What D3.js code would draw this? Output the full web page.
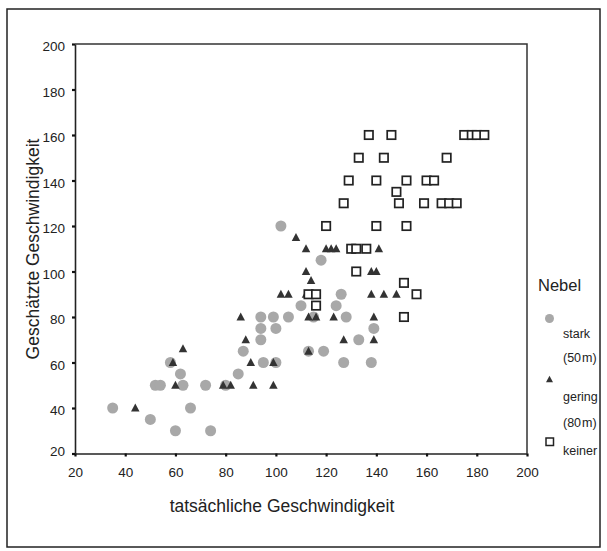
<!DOCTYPE html>
<html>
<head>
<meta charset="utf-8">
<script src="https://cdn.jsdelivr.net/npm/d3@7"></script>
<style>
body{margin:0;background:#fff;}
svg text{font-family:"Liberation Sans",Arial,sans-serif;fill:#222;}
</style>
</head>
<body>
<div id="chart"></div>
<script>
var xTicks = [20,40,60,80,100,120,140,160,180,200];
var yTicks = [20,40,60,80,100,120,140,160,180,200];

// Nebel: stark (50 m)
var stark = [[35,40],[50,35],[52,50],[54,50],[58,60],[62,55],[63,50],[60,30],[66,40],[72,50],[74,30],
	[80,50],[85,55],[87,65],[94,80],[99,80],[105,80],[94,75],[100,75],[94,70],[95,60],[100,60],
	[110,85],[124,85],[115,80],[128,80],[139,75],[133,70],[113,65],[119,65],[127,60],[138,60],
	[102,120],[118,105],[126,90]];
// Nebel: gering (80 m)
var gering = [[44,40],[63,66],[59,60],[60,50],[79,50],[82,50],[91,50],[99,50],[90,60],[99,60],
	[88,70],[86,80],[113,65],[113,80],[116,80],[123,80],[139,80],[127,70],[139,70],[102,90],
	[105,90],[112,90],[138,90],[143,90],[148,90],[114,96],[112,100],[138,100],[140,100],
	[108,115],[112,110],[120,110],[122,110],[124,110],[141,110]];
// Nebel: keiner
var keiner = [[113,90],[116,90],[116,85],[151,80],[156,90],[151,95],[132,100],[130,110],[132,110],
	[136,110],[120,120],[140,120],[152,120],[127,130],[149,130],[159,130],[166,130],[169,130],
	[172,130],[148,135],[129,140],[140,140],[152,140],[160,140],[163,140],[133,150],[143,150],
	[168,150],[137,160],[146,160],[175,160],[178,160],[180,160],[183,160]];

var width = 607, height = 551;
var svg = d3.select("#chart").append("svg")
	.attr("width",width)
	.attr("height",height);

// outer frame
svg.append("rect")
	.attr("x",7).attr("y",9)
	.attr("width",593).attr("height",538)
	.attr("fill","none")
	.attr("stroke","#222")
	.attr("stroke-width",1.5);

var x = d3.scaleLinear().domain([20,200]).range([75,527]);
var y = d3.scaleLinear().domain([20,200]).range([453.5,44]);

// box top/right
svg.append("path")
	.attr("d","M"+x(20)+","+y(200)+"H"+x(200)+"V"+y(20))
	.attr("fill","none")
	.attr("stroke","#333")
	.attr("stroke-width",1.5);

var xAxis = svg.append("g")
	.attr("transform","translate(0,"+y(20)+")")
	.call(d3.axisBottom(x).tickValues(xTicks).tickSize(3).tickSizeOuter(0).tickPadding(11));
var yAxis = svg.append("g")
	.attr("transform","translate("+x(20)+",0)")
	.call(d3.axisLeft(y).tickValues(yTicks).tickSize(3).tickSizeOuter(0).tickPadding(7));

[xAxis,yAxis].forEach(function(a){
	a.select(".domain").attr("stroke","#222").attr("stroke-width",1.6);
	a.selectAll(".tick line").attr("stroke","#111").attr("stroke-width",2.2);
	a.selectAll(".tick text").style("font-size","13.5px").attr("fill","#222");
});
yAxis.selectAll(".tick text").attr("y",function(d){return d===20 ? -2 : 2.5;});

// axis titles
svg.append("text")
	.attr("x",282).attr("y",512)
	.attr("text-anchor","middle")
	.style("font-size","17.5px")
	.text("tatsächliche Geschwindigkeit");
svg.append("text")
	.attr("transform","translate(39,249) rotate(-90)")
	.attr("text-anchor","middle")
	.style("font-size","17.5px")
	.text("Geschätzte Geschwindigkeit");

function triPath(cx,cy,w,h){
	return "M"+cx+","+(cy-h/2)+"L"+(cx+w/2)+","+(cy+h/2)+"L"+(cx-w/2)+","+(cy+h/2)+"Z";
}

// points
svg.append("g").selectAll("circle")
	.data(stark).enter().append("circle")
	.attr("cx",function(d){return x(d[0]);})
	.attr("cy",function(d){return y(d[1]);})
	.attr("r",5.5)
	.attr("fill","#a8a8a8");

svg.append("g").selectAll("path")
	.data(gering).enter().append("path")
	.attr("d",function(d){return triPath(x(d[0]),y(d[1])-0.5,8.5,8);})
	.attr("fill","#333");

svg.append("g").selectAll("rect")
	.data(keiner).enter().append("rect")
	.attr("x",function(d){return x(d[0])-4.2;})
	.attr("y",function(d){return y(d[1])-4.2;})
	.attr("width",8.4).attr("height",8.4)
	.attr("fill","#fff")
	.attr("stroke","#222")
	.attr("stroke-width",1.7);

// legend
var lg = svg.append("g");
lg.append("text").attr("x",538).attr("y",291).style("font-size","16.5px").text("Nebel");
lg.append("circle").attr("cx",549.5).attr("cy",318.5).attr("r",4.5).attr("fill","#a8a8a8");
lg.append("text").attr("x",563).attr("y",338).style("font-size","12.5px").text("stark");
lg.append("text").attr("x",563).attr("y",362).style("font-size","12.5px").text("(50\u200am)");
lg.append("path").attr("d",triPath(549.5,379,7,6.5)).attr("fill","#333");
lg.append("text").attr("x",563).attr("y",401).style("font-size","12.5px").text("gering");
lg.append("text").attr("x",563).attr("y",427).style("font-size","12.5px").text("(80\u200am)");
lg.append("rect").attr("x",546).attr("y",438).attr("width",7.5).attr("height",7.5)
	.attr("fill","#fff").attr("stroke","#222").attr("stroke-width",1.5);
lg.append("text").attr("x",563).attr("y",455).style("font-size","12.5px").text("keiner");
</script>
</body>
</html>
